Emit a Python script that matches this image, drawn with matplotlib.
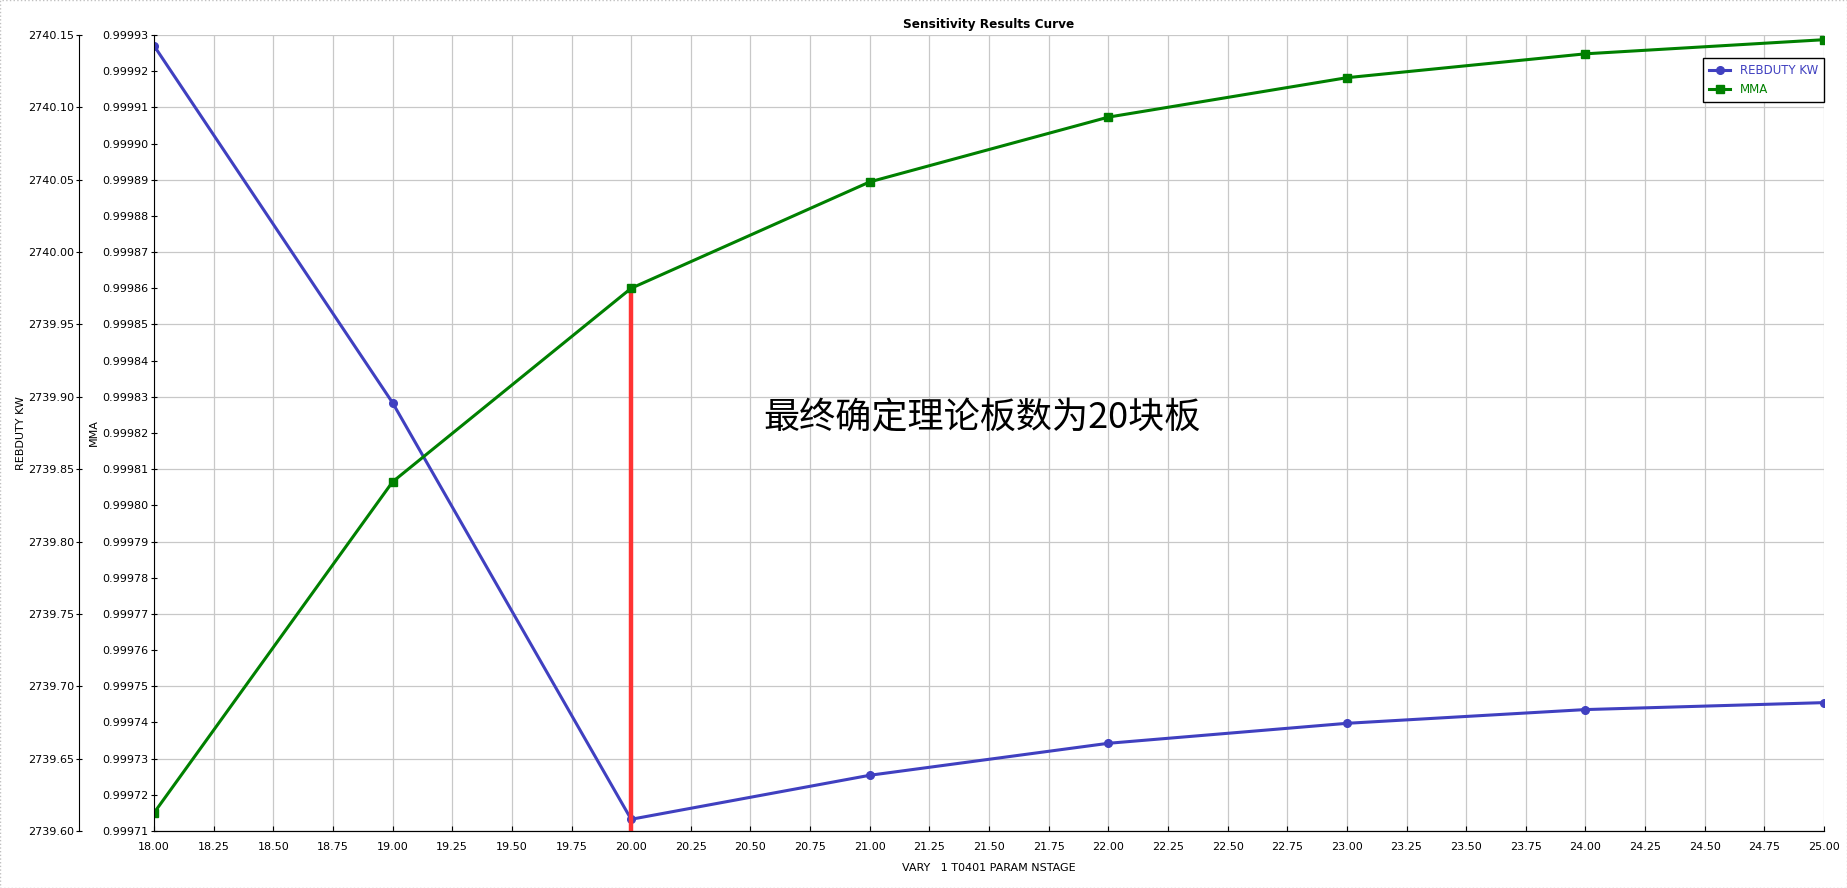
import matplotlib
matplotlib.use("Agg")
import matplotlib.pyplot as plt
from matplotlib.ticker import MultipleLocator, FormatStrFormatter
from matplotlib.lines import Line2D
from matplotlib.patches import Rectangle

# data
stages = [18, 19, 20, 21, 22, 23, 24, 25]
rebduty_kw = [2740.1426, 2739.8959, 2739.6081, 2739.6385, 2739.6606, 2739.6744, 2739.6839, 2739.6887]
mma = [0.999715, 0.9998065, 0.999860, 0.9998894, 0.9999073, 0.9999182, 0.9999248, 0.9999287]
chosen_stage = 20
note = "最终确定理论板数为20块板"

blue = "#4040c0"
green = "#008000"
red = "#ff3333"

plt.rcParams['font.family'] = ['DejaVu Sans']
plt.rcParams['font.size'] = 8

W, H = 1847, 888
fig = plt.figure(figsize=(W / 100, H / 100), dpi=100)
ax = fig.add_axes([154 / W, 1 - 831 / H, 1670 / W, 796 / H])
ax_m = ax.twinx()

# REBDUTY KW axis (host, outer left)
ax.plot(stages, rebduty_kw, color=blue, lw=2.2, marker='o', ms=5.5, zorder=2)
ax.set_xlim(18, 25)
ax.set_ylim(2739.60, 2740.15)
ax.xaxis.set_major_locator(MultipleLocator(0.25))
ax.xaxis.set_major_formatter(FormatStrFormatter('%.2f'))
ax.yaxis.set_major_locator(MultipleLocator(0.05))
ax.yaxis.set_major_formatter(FormatStrFormatter('%.2f'))
ax.grid(True, color='#c8c8c8', lw=0.9)
ax.set_axisbelow(True)
ax.spines['left'].set_position(('outward', 54))
ax.spines['top'].set_visible(False)
ax.spines['right'].set_visible(False)
ax.tick_params(axis='y', direction='inout', length=4.5, pad=1)
ax.tick_params(axis='x', direction='in', length=3.6, pad=8)
ax.set_ylabel('REBDUTY KW')
ax.yaxis.set_label_coords(-0.0768, 0.5)
ax.set_xlabel('VARY   1 T0401 PARAM NSTAGE', labelpad=8)
ax.set_title('Sensitivity Results Curve', fontweight='bold', fontsize=8.7, pad=5)

# MMA axis (inner left)
i = stages.index(chosen_stage)
ax_m.set_ylim(0.99971, 0.99993)
ax_m.vlines(chosen_stage, 0.99971, mma[i], color=red, lw=3.2, zorder=1.5)
ax_m.plot(stages, mma, color=green, lw=2.2, marker='s', ms=5.3, zorder=2)
ax_m.yaxis.tick_left()
ax_m.yaxis.set_label_position('left')
ax_m.yaxis.set_major_locator(MultipleLocator(0.00001))
ax_m.yaxis.set_major_formatter(FormatStrFormatter('%.5f'))
ax_m.spines['left'].set_visible(True)
ax_m.spines['right'].set_visible(False)
ax_m.spines['top'].set_visible(False)
ax_m.tick_params(axis='y', direction='inout', length=4.5, pad=2)
ax_m.set_ylabel('MMA')
ax_m.yaxis.set_label_coords(-0.0329, 0.5)

ax.text(21.47, 2739.885, note, ha='center', va='center', fontsize=26,
        family=['Noto Sans CJK SC', 'DejaVu Sans'])

handles = [Line2D([], [], color=blue, lw=2.2, marker='o', ms=5.5),
           Line2D([], [], color=green, lw=2.2, marker='s', ms=5.3)]
leg = ax_m.legend(handles, ['REBDUTY KW', 'MMA'], loc='upper right',
                  bbox_to_anchor=(1.0, 1 - 23 / 796), borderaxespad=0,
                  fancybox=False, edgecolor='black', framealpha=1,
                  fontsize=8.5, handlelength=1.8, labelcolor='linecolor',
                  borderpad=0.5, labelspacing=0.5)
leg.get_frame().set_linewidth(1)

fig.patches.append(Rectangle((0, 0), 1, 1, transform=fig.transFigure, fill=False,
                             ls=':', color='#c0c0c0', lw=1))

fig.savefig('out.png', dpi=100)
